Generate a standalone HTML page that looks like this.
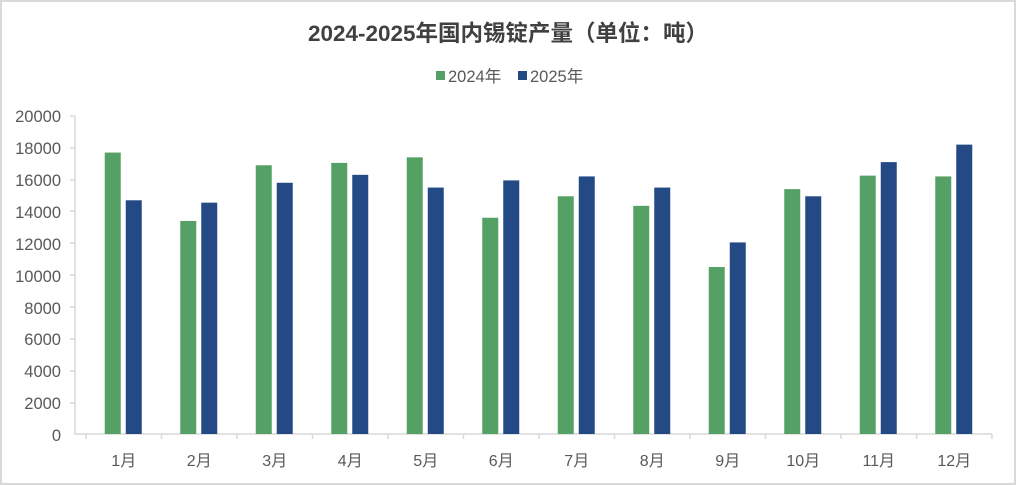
<!DOCTYPE html>
<html><head><meta charset="utf-8"><style>
html,body{margin:0;padding:0;background:#fff}
svg{display:block;font-family:"Liberation Sans","Noto Sans CJK SC",sans-serif}
</style></head><body>
<svg width="1016" height="485" viewBox="0 0 1016 485">
<rect x="1" y="1" width="1014" height="483" fill="#fff" stroke="#d9d9d9" stroke-width="2"/>
<text x="508" y="41" text-anchor="middle" font-size="22.5" font-weight="bold" fill="#404040">2024-2025年国内锡锭产量（单位：吨）</text>
<rect x="436" y="71" width="9" height="9" fill="#55a065"/>
<text x="448" y="82" font-size="16.5" fill="#595959">2024年</text>
<rect x="518" y="71" width="9" height="9" fill="#234a85"/>
<text x="530" y="82" font-size="16.5" fill="#595959">2025年</text>
<g font-size="16.5" fill="#595959" text-anchor="end">
<text x="61" y="441">0</text><text x="61" y="409">2000</text><text x="61" y="377">4000</text><text x="61" y="345">6000</text><text x="61" y="314">8000</text><text x="61" y="282">10000</text><text x="61" y="250">12000</text><text x="61" y="218">14000</text><text x="61" y="186">16000</text><text x="61" y="154">18000</text><text x="61" y="122">20000</text>
</g>
<g stroke="#d9d9d9" stroke-width="1.5">
<line x1="75" y1="116" x2="75" y2="435"/>
<line x1="70" y1="116" x2="75" y2="116"/><line x1="70" y1="148" x2="75" y2="148"/><line x1="70" y1="180" x2="75" y2="180"/><line x1="70" y1="211" x2="75" y2="211"/><line x1="70" y1="243" x2="75" y2="243"/><line x1="70" y1="275" x2="75" y2="275"/><line x1="70" y1="307" x2="75" y2="307"/><line x1="70" y1="339" x2="75" y2="339"/><line x1="70" y1="371" x2="75" y2="371"/><line x1="70" y1="403" x2="75" y2="403"/>
<line x1="75" y1="434" x2="992" y2="434"/>
</g>
<g id="bars"></g>
<g id="labels" font-size="16" fill="#595959" text-anchor="middle"></g>
<g id="ticks" stroke="#d9d9d9" stroke-width="1.5"></g>
<script>
var g=[17700,13400,16900,17050,17400,13600,14950,14350,10500,15400,16250,16200];
var b=[14700,14550,15800,16300,15500,15950,16200,15500,12050,14950,17100,18200];
var ns="http://www.w3.org/2000/svg",B=document.getElementById("bars"),L=document.getElementById("labels"),T=document.getElementById("ticks");
function el(p,t,a){var e=document.createElementNS(ns,t);for(var k in a)e.setAttribute(k,a[k]);p.appendChild(e);return e;}
var w=75.5;
for(var i=0;i<12;i++){var c=86+w*i+w/2;
var hg=g[i]*0.0159,hb=b[i]*0.0159;
el(B,"rect",{x:c-19,y:434-hg,width:16,height:hg,fill:"#55a065"});
el(B,"rect",{x:c+2,y:434-hb,width:16,height:hb,fill:"#234a85"});
var t=el(L,"text",{x:c,y:466});t.textContent=(i+1)+"月";
}
for(var i=0;i<=12;i++){var x=86+w*i;el(T,"line",{x1:x,y1:434,x2:x,y2:439});}
</script>
</svg>
</body></html>
